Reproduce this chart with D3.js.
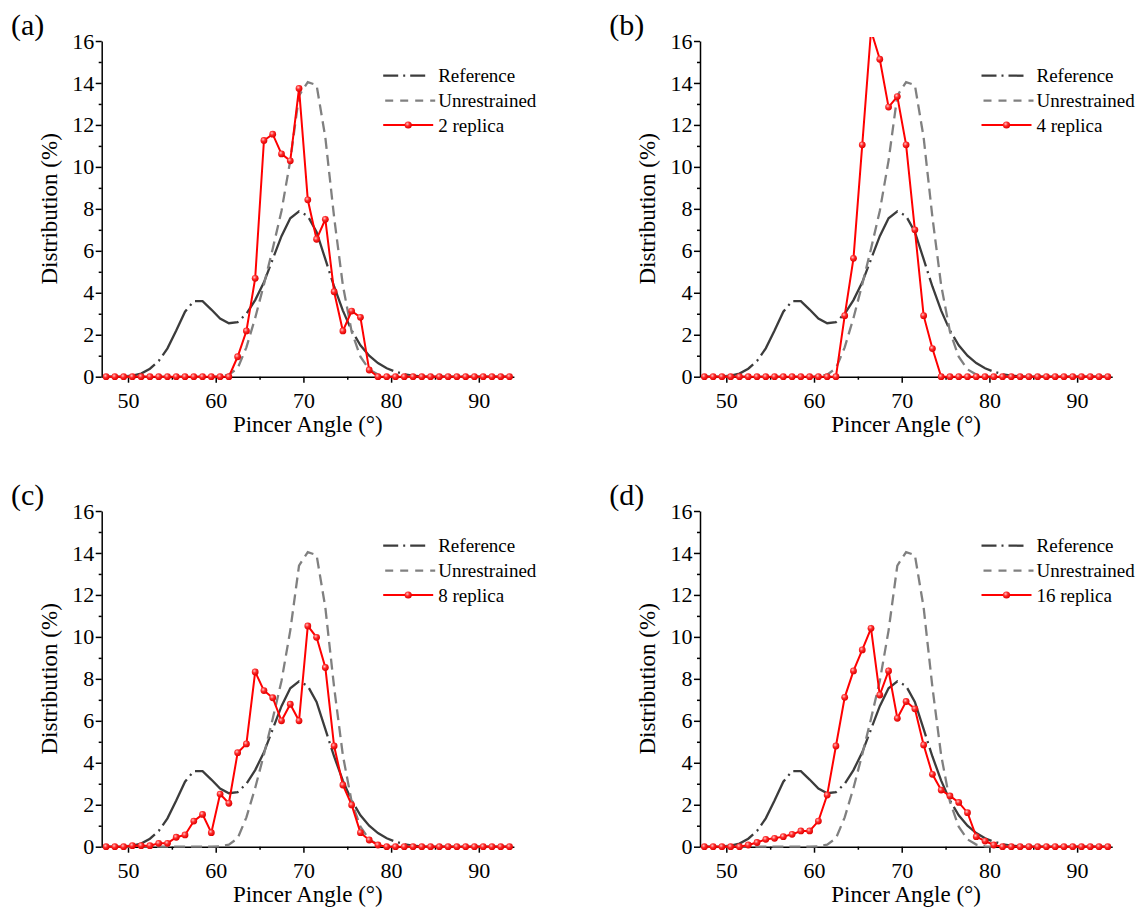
<!DOCTYPE html>
<html>
<head>
<meta charset="utf-8">
<script src="https://cdn.jsdelivr.net/npm/d3@7"></script>
</head>
<body style="margin:0">
<svg id="chart" width="1138" height="908"></svg>
<script>
// bin centres (degrees)
const angles = [47.5, 48.5, 49.5, 50.5, 51.5, 52.5, 53.5, 54.5, 55.5, 56.5, 57.5, 58.5,
	59.5, 60.5, 61.5, 62.5, 63.5, 64.5, 65.5, 66.5, 67.5, 68.5, 69.5, 70.5, 71.5, 72.5,
	73.5, 74.5, 75.5, 76.5, 77.5, 78.5, 79.5, 80.5, 81.5, 82.5, 83.5, 84.5, 85.5, 86.5,
	87.5, 88.5, 89.5, 90.5, 91.5, 92.5, 93.5];

const reference = [0, 0, 0.01, 0.05, 0.15, 0.38, 0.75, 1.35, 2.2, 3.1, 3.6, 3.6,
	3.2, 2.77, 2.55, 2.6, 3.0, 3.65, 4.5, 5.6, 6.7, 7.55, 7.88, 7.66, 6.9, 5.6,
	4.3, 3.15, 2.2, 1.5, 1.0, 0.65, 0.4, 0.24, 0.12, 0.05, 0.02, 0, 0, 0,
	0, 0, 0, 0, 0, 0, 0];

const unrestrained = [0, 0, 0, 0, 0, 0, 0, 0, 0, 0, 0, 0,
	0, 0.02, 0.1, 0.4, 1.4, 2.8, 4.4, 6.1, 7.9, 10.3, 13.4, 14.04, 13.9, 11.4,
	7.6, 4.35, 2.15, 0.95, 0.35, 0.1, 0.02, 0, 0, 0, 0, 0, 0, 0,
	0, 0, 0, 0, 0, 0, 0];

const replica2 = [0, 0, 0, 0, 0, 0, 0, 0, 0, 0, 0, 0,
	0, 0, 0, 0.95, 2.18, 4.69, 11.26, 11.56, 10.62, 10.29, 13.74, 8.43, 6.55, 7.5,
	4.05, 2.18, 3.13, 2.83, 0.32, 0, 0, 0, 0, 0, 0, 0, 0, 0,
	0, 0, 0, 0, 0, 0, 0];

const replica4 = [0, 0, 0, 0, 0, 0, 0, 0, 0, 0, 0, 0,
	0, 0, 0, 0, 2.91, 5.64, 11.05, 16.5, 15.13, 12.85, 13.35, 11.05, 7.0, 2.91,
	1.34, 0, 0, 0, 0, 0, 0, 0, 0, 0, 0, 0, 0, 0,
	0, 0, 0, 0, 0, 0, 0];

const replica8 = [0, 0, 0, 0.05, 0.05, 0.05, 0.16, 0.16, 0.45, 0.56, 1.22, 1.54,
	0.67, 2.51, 2.07, 4.48, 4.9, 8.33, 7.44, 7.1, 6.0, 6.79, 6.0, 10.52, 9.98, 8.54,
	4.8, 2.94, 1.99, 0.67, 0.32, 0.08, 0, 0, 0, 0, 0, 0, 0, 0,
	0, 0, 0, 0, 0, 0, 0];

const replica16 = [0, 0, 0, 0, 0, 0.08, 0.2, 0.35, 0.4, 0.48, 0.59, 0.75,
	0.75, 1.22, 2.46, 4.8, 7.12, 8.38, 9.38, 10.41, 7.23, 8.38, 6.12, 6.92, 6.57, 4.85,
	3.45, 2.7, 2.42, 2.11, 1.62, 0.48, 0.27, 0.08, 0, 0, 0, 0, 0, 0,
	0, 0, 0, 0, 0, 0, 0];

const xMajor = [50, 60, 70, 80, 90];
const xMinor = [55, 65, 75, 85];
const yMajor = [0, 2, 4, 6, 8, 10, 12, 14, 16];
const yMinor = [1, 3, 5, 7, 9, 11, 13, 15];

const panels = [
	{ label: "(a)", name: "2 replica", values: replica2, left: 101.7, top: 41 },
	{ label: "(b)", name: "4 replica", values: replica4, left: 700, top: 41 },
	{ label: "(c)", name: "8 replica", values: replica8, left: 101.7, top: 511 },
	{ label: "(d)", name: "16 replica", values: replica16, left: 700, top: 511 }
];

const FONT = "'Liberation Serif', monospace";

const svg = d3.select("#chart");
const plotW = 412.2;
const plotH = 335.7;

const x = d3.scaleLinear([47, 94], [0, plotW]);
const y = d3.scaleLinear([0, 16], [plotH, 0]);

const line = d3.line()
	.x((d, i) => x(angles[i]))
	.y((d) => y(d));

const defs = svg.append("defs");
const grad = defs.append("radialGradient").attr("id", "ball")
	.attr("cx", "38%").attr("cy", "35%").attr("r", "65%");
grad.append("stop").attr("offset", "0%").attr("stop-color", "#ffc4c4");
grad.append("stop").attr("offset", "45%").attr("stop-color", "#ff2a2a");
grad.append("stop").attr("offset", "100%").attr("stop-color", "#dd0000");

const refDash = "52,5,2,5";
const unrDash = "11,6";

function label(sel, size) {
	return sel.style("font-family", FONT).style("font-size", size + "px").attr("fill", "#000");
}

panels.forEach((p, k) => {
	const g = svg.append("g").attr("transform", "translate(" + p.left + "," + p.top + ")");

	defs.append("clipPath").attr("id", "clip" + k)
		.append("rect").attr("x", -2).attr("y", -4).attr("width", plotW + 4).attr("height", plotH + 10);

	// axes
	const axes = [
		g.append("g").attr("transform", "translate(0," + plotH + ")")
			.call(d3.axisBottom(x).tickValues(xMajor).tickSize(6).tickSizeOuter(0).tickPadding(9.5)),
		g.append("g").attr("transform", "translate(0," + plotH + ")")
			.call(d3.axisBottom(x).tickValues(xMinor).tickSize(3).tickFormat("")),
		g.append("g")
			.call(d3.axisLeft(y).tickValues(yMajor).tickSize(6).tickSizeOuter(0).tickPadding(1.5)),
		g.append("g")
			.call(d3.axisLeft(y).tickValues(yMinor).tickSize(3).tickFormat(""))
	];
	axes[1].select(".domain").remove();
	axes[3].select(".domain").remove();
	axes.forEach((a) => {
		a.selectAll("path, line").attr("stroke", "#000").attr("stroke-width", 1.5);
		label(a.selectAll("text"), 22);
	});

	label(g.append("text"), 23)
		.attr("x", plotW / 2).attr("y", plotH + 55.3)
		.attr("text-anchor", "middle")
		.text("Pincer Angle (°)");
	label(g.append("text"), 23)
		.attr("transform", "translate(-44.7," + plotH / 2 + ") rotate(-90)")
		.attr("text-anchor", "middle")
		.text("Distribution (%)");
	label(g.append("text"), 30)
		.attr("x", -90.7).attr("y", -6.4)
		.text(p.label);

	// curves
	const plot = g.append("g").attr("clip-path", "url(#clip" + k + ")");
	plot.append("path").datum(reference)
		.attr("d", line).attr("fill", "none")
		.attr("stroke", "#3c3c3c").attr("stroke-width", 2.3)
		.attr("stroke-dasharray", refDash);
	plot.append("path").datum(unrestrained)
		.attr("d", line).attr("fill", "none")
		.attr("stroke", "#808080").attr("stroke-width", 2.3)
		.attr("stroke-dasharray", unrDash);
	plot.append("path").datum(p.values)
		.attr("d", line).attr("fill", "none")
		.attr("stroke", "#ff0000").attr("stroke-width", 2);
	plot.selectAll("circle")
		.data(p.values)
		.join("circle")
		.attr("cx", (d, i) => x(angles[i]))
		.attr("cy", (d) => y(d))
		.attr("r", 3.4)
		.attr("fill", "url(#ball)");

	// legend
	const lg = g.append("g").attr("transform", "translate(281.5,0)");
	const rows = [
		{ text: "Reference", y: 34.7 },
		{ text: "Unrestrained", y: 59.7 },
		{ text: p.name, y: 84 }
	];
	lg.append("line").attr("x1", 0).attr("x2", 42).attr("y1", rows[0].y).attr("y2", rows[0].y)
		.attr("stroke", "#3c3c3c").attr("stroke-width", 2.3).attr("stroke-dasharray", "15,5,2,5");
	lg.append("line").attr("x1", 2).attr("x2", 52).attr("y1", rows[1].y).attr("y2", rows[1].y)
		.attr("stroke", "#808080").attr("stroke-width", 2.3).attr("stroke-dasharray", "8,7");
	lg.append("line").attr("x1", 0).attr("x2", 50).attr("y1", rows[2].y).attr("y2", rows[2].y)
		.attr("stroke", "#ff0000").attr("stroke-width", 2);
	lg.append("circle").attr("cx", 25).attr("cy", rows[2].y).attr("r", 3.6).attr("fill", "url(#ball)");
	label(lg.selectAll("text.leg").data(rows).join("text"), 19)
		.attr("class", "leg")
		.attr("x", 55).attr("y", (d) => d.y).attr("dy", "0.35em")
		.text((d) => d.text);
});
</script>
</body>
</html>
